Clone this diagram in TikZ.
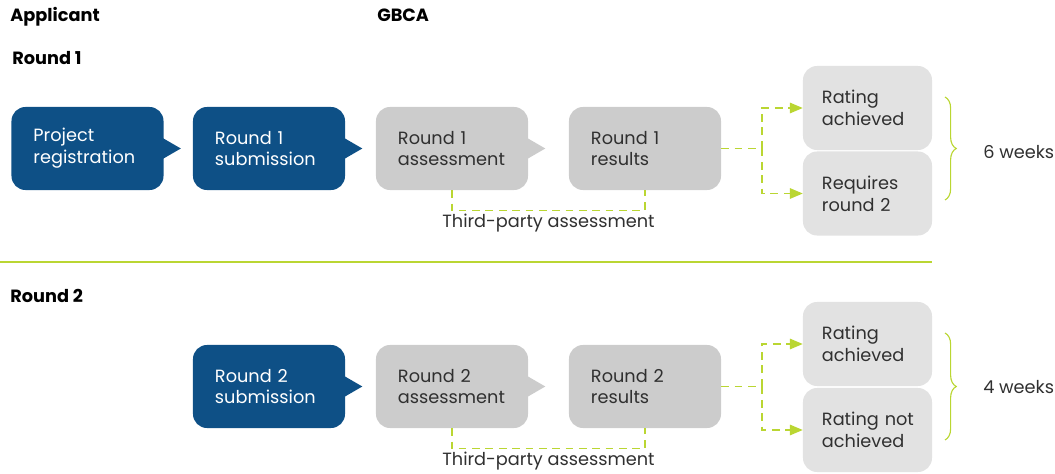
\documentclass[tikz,border=0pt]{standalone}
\usepackage{fontspec}
\setmainfont{Poppins}
\usepackage{tikz}
\usetikzlibrary{arrows,positioning,calc,decorations.pathreplacing}
\definecolor{gbcablue}{RGB}{14,80,134}
\definecolor{midgrey}{RGB}{204,204,204}
\definecolor{lightgrey}{RGB}{226,226,226}
\definecolor{limegreen}{RGB}{186,214,50}
\definecolor{textgrey}{RGB}{48,48,48}
\newcommand{\boxfont}{\fontsize{12.6}{15.6}\selectfont}
\newcommand{\pointer}[2]{\fill[#2] ($(#1.east)+(-2,-11)$) -- ($(#1.east)+(17,0)$) -- ($(#1.east)+(-2,11)$) -- cycle;}
\tikzset{
	blue box/.style={fill=gbcablue, text=white, rounded corners=0.35cm, inner xsep=0.55cm, text width=2.7cm, minimum height=2.075cm, align=left, font=\boxfont},
	grey box/.style={blue box, fill=midgrey, text=textgrey},
	result box/.style={fill=lightgrey, text=textgrey, rounded corners=0.35cm, inner xsep=0.475cm, text width=2.275cm, minimum height=2.1cm, align=left, font=\boxfont},
	flow/.style={limegreen, line width=1.1pt, dash pattern=on 5.5pt off 4pt},
	heading/.style={font=\boxfont\bfseries, text=black, anchor=base west, inner sep=0pt},
	plain/.style={font=\boxfont, text=textgrey}
}

\begin{document}
\begin{tikzpicture}[x=0.025cm, y=-0.025cm]
	\useasboundingbox (0,0) rectangle (1055,474);
	\node[heading] (P) at (10,21) {Applicant};
	\node[heading] (Q) at (377,21) {GBCA};
	\node[heading] (R) at (12,64) {Round 1};
	\node[heading] (S) at (10,302) {Round 2};
	
	% round 1
	\node[blue box] (A) at (87.5,148.5) {Project\\registration};
	\node[blue box] (B) at (269,148.5) {Round 1\\submission};
	\node[grey box] (C) at (452,148.5) {Round 1\\assessment};
	\node[grey box] (D) at (645,148.5) {Round 1\\results};
	\node[result box] (E) at (867.5,108) {Rating\\achieved};
	\node[result box] (F) at (867.5,193.5) {Requires\\round 2};
	\pointer{A}{gbcablue}
	\pointer{B}{gbcablue}
	\pointer{C}{midgrey}
	
	\coordinate (X) at (762,148.5);
	\draw[flow] (D.east) -- (X);
	\draw[flow, ->, >=triangle 45] (X) |- (E.west);
	\draw[flow, ->, >=triangle 45] (X) |- (F.west);
	\draw[flow] (C.south) -- ++(0,20) -| node[pos=0.25, below, plain, inner sep=2pt] (T) {Third-party assessment} (D.south);
	
	\coordinate (U1) at (945,97);
	\coordinate (U2) at (945,200);
	\draw[limegreen, line width=0.8pt, decorate, decoration={brace, amplitude=8pt}] (U1) -- (U2);
	\node[plain, anchor=west, inner sep=0pt] (W) at (983,152) {6 weeks};
	
	\draw[limegreen, line width=1.4pt] (0,262) -- (932,262);
	
	% round 2
	\node[blue box] (G) at (269,386.5) {Round 2\\submission};
	\node[grey box] (H) at (452,386.5) {Round 2\\assessment};
	\node[grey box] (I) at (645,386.5) {Round 2\\results};
	\node[result box] (J) at (867.5,344) {Rating\\achieved};
	\node[result box] (K) at (867.5,430) {Rating~not\\achieved};
	\pointer{G}{gbcablue}
	\pointer{H}{midgrey}
	
	\coordinate (Y) at (762,386.5);
	\draw[flow] (I.east) -- (Y);
	\draw[flow, ->, >=triangle 45] (Y) |- (J.west);
	\draw[flow, ->, >=triangle 45] (Y) |- (K.west);
	\draw[flow] (H.south) -- ++(0,20) -| node[pos=0.25, below, plain, inner sep=2pt] (V) {Third-party assessment} (I.south);
	
	\coordinate (U3) at (945,333);
	\coordinate (U4) at (945,440);
	\draw[limegreen, line width=0.8pt, decorate, decoration={brace, amplitude=8pt}] (U3) -- (U4);
	\node[plain, anchor=west, inner sep=0pt] (Z) at (983,387) {4 weeks};
	
\end{tikzpicture}
\end{document}
